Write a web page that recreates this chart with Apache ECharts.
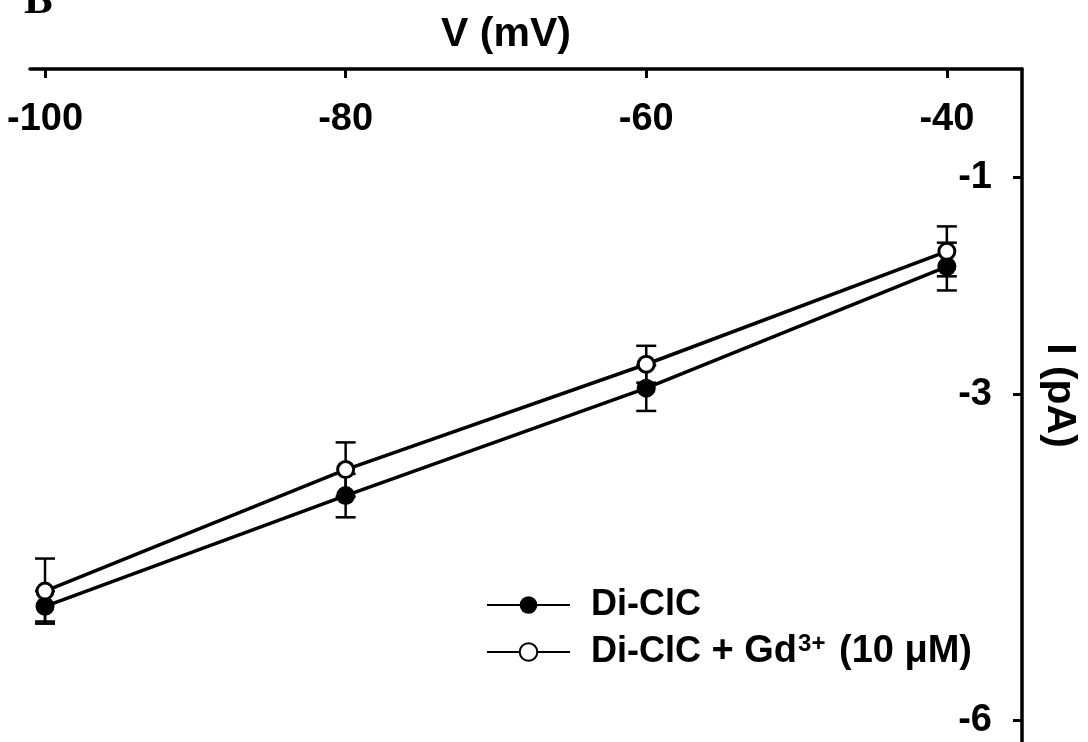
<!DOCTYPE html>
<html><head><meta charset="utf-8">
<script src="https://cdn.jsdelivr.net/npm/echarts@6/dist/echarts.min.js"></script>
<style>html,body{margin:0;padding:0;background:#fff}#c{width:1088px;height:742px}</style>
</head><body><div id="c"></div>
<script>
const voltages = [-100, -80, -60, -40];
const diClC = [-4.95, -3.93, -2.94, -1.82];
const diClCErr = [0.14, 0.20, 0.21, 0.22];
const diClCGd = [-4.81, -3.69, -2.72, -1.68];
const diClCGdErr = [0.30, 0.25, 0.17, 0.23];
const xTicks = [-100, -80, -60, -40];
const yTicks = [-1, -3, -6];
const seriesNames = ['Di-ClC', 'Di-ClC + Gd3+ (10 μM)'];
const xName = 'V (mV)';
const yName = 'I (pA)';
const panelLabel = 'B';

const SANS = '"Liberation Sans", Arial, sans-serif';

function errData(vals, errs) {
  return voltages.map((v, i) => [v, vals[i] - errs[i], vals[i] + errs[i]]);
}
function renderErr(params, api) {
  const x = api.value(0), lo = api.value(1), hi = api.value(2);
  const p1 = api.coord([x, hi]), p2 = api.coord([x, lo]);
  const hw = 10;
  const st = {stroke: '#000', lineWidth: 2.5};
  return {type: 'group', children: [
    {type: 'line', shape: {x1: p1[0], y1: p1[1], x2: p2[0], y2: p2[1]}, style: st},
    {type: 'line', shape: {x1: p1[0]-hw, y1: p1[1], x2: p1[0]+hw, y2: p1[1]}, style: st},
    {type: 'line', shape: {x1: p2[0]-hw, y1: p2[1], x2: p2[0]+hw, y2: p2[1]}, style: st}
  ]};
}

const chart = echarts.init(document.getElementById('c'), null, {renderer: 'canvas'});
chart.setOption({
  animation: false,
  backgroundColor: '#fff',
  grid: {left: 30, right: 57, top: 69, bottom: 0, containLabel: false},
  graphic: [{type: 'text', left: 24, top: -20, style: {text: panelLabel, font: 'bold 43px "Liberation Serif", "Times New Roman", serif', fill: '#000'}}],
  legend: {
    orient: 'vertical', left: 486, top: 587, padding: 0,
    itemWidth: 83, itemHeight: 22, itemGap: 9,
    data: seriesNames,
    formatter: function (n) {
      if (n === seriesNames[1]) return '{t|Di-ClC}{u| + Gd}{sup|3+}{u| (10 μM)}';
      return '{t|' + n + '}';
    },
    textStyle: {
      color: '#000', fontWeight: 'bold', fontFamily: SANS, fontSize: 36, padding: [0, 0, 0, 16],
      rich: {
        t: {fontSize: 36, fontWeight: 'bold', fontFamily: SANS, color: '#000', lineHeight: 40},
        u: {fontSize: 38, fontWeight: 'bold', fontFamily: SANS, color: '#000', lineHeight: 40},
        sup: {fontSize: 24, fontWeight: 'bold', fontFamily: SANS, color: '#000', verticalAlign: 'top', lineHeight: 24, padding: [0, 3, 0, 1]}
      }
    }
  },
  xAxis: {
    type: 'value', position: 'top', min: -101, max: -35,
    axisLine: {show: true, onZero: false, lineStyle: {color: '#000', width: 3.5}},
    axisTick: {show: true, inside: true, length: 9, customValues: xTicks, lineStyle: {color: '#000', width: 3}},
    axisLabel: {inside: true, margin: 32, customValues: xTicks, color: '#000', fontSize: 38, fontWeight: 'bold', fontFamily: SANS},
    splitLine: {show: false},
    name: xName, nameLocation: 'middle', nameGap: 14,
    nameTextStyle: {color: '#000', fontSize: 41, fontWeight: 'bold', fontFamily: SANS, padding: [0, 40, 0, 0]}
  },
  yAxis: {
    type: 'value', position: 'right', min: -6.2, max: 0,
    axisLine: {show: true, onZero: false, lineStyle: {color: '#000', width: 3.5}},
    axisTick: {show: true, inside: true, length: 9, customValues: yTicks, lineStyle: {color: '#000', width: 3}},
    axisLabel: {inside: true, margin: 30, customValues: yTicks, color: '#000', fontSize: 38, fontWeight: 'bold', fontFamily: SANS},
    splitLine: {show: false},
    name: yName, nameLocation: 'middle', nameRotate: -90, nameGap: 17,
    nameTextStyle: {color: '#000', fontSize: 41, fontWeight: 'bold', fontFamily: SANS, padding: [0, 20, 0, 0]}
  },
  series: [
    {type: 'custom', name: 'err1', renderItem: renderErr, data: errData(diClC, diClCErr), z: 1, silent: true},
    {type: 'custom', name: 'err2', renderItem: renderErr, data: errData(diClCGd, diClCGdErr), z: 1, silent: true},
    {type: 'line', name: seriesNames[0], data: voltages.map((v, i) => [v, diClC[i]]),
     symbol: 'circle', symbolSize: 19, itemStyle: {color: '#000'},
     lineStyle: {color: '#000', width: 3.5}, z: 3},
    {type: 'line', name: seriesNames[1], data: voltages.map((v, i) => [v, diClCGd[i]]),
     symbol: 'circle', symbolSize: 16, itemStyle: {color: '#fff', borderColor: '#000', borderWidth: 3},
     lineStyle: {color: '#000', width: 3.5}, z: 4}
  ]
});
</script>
</body></html>
